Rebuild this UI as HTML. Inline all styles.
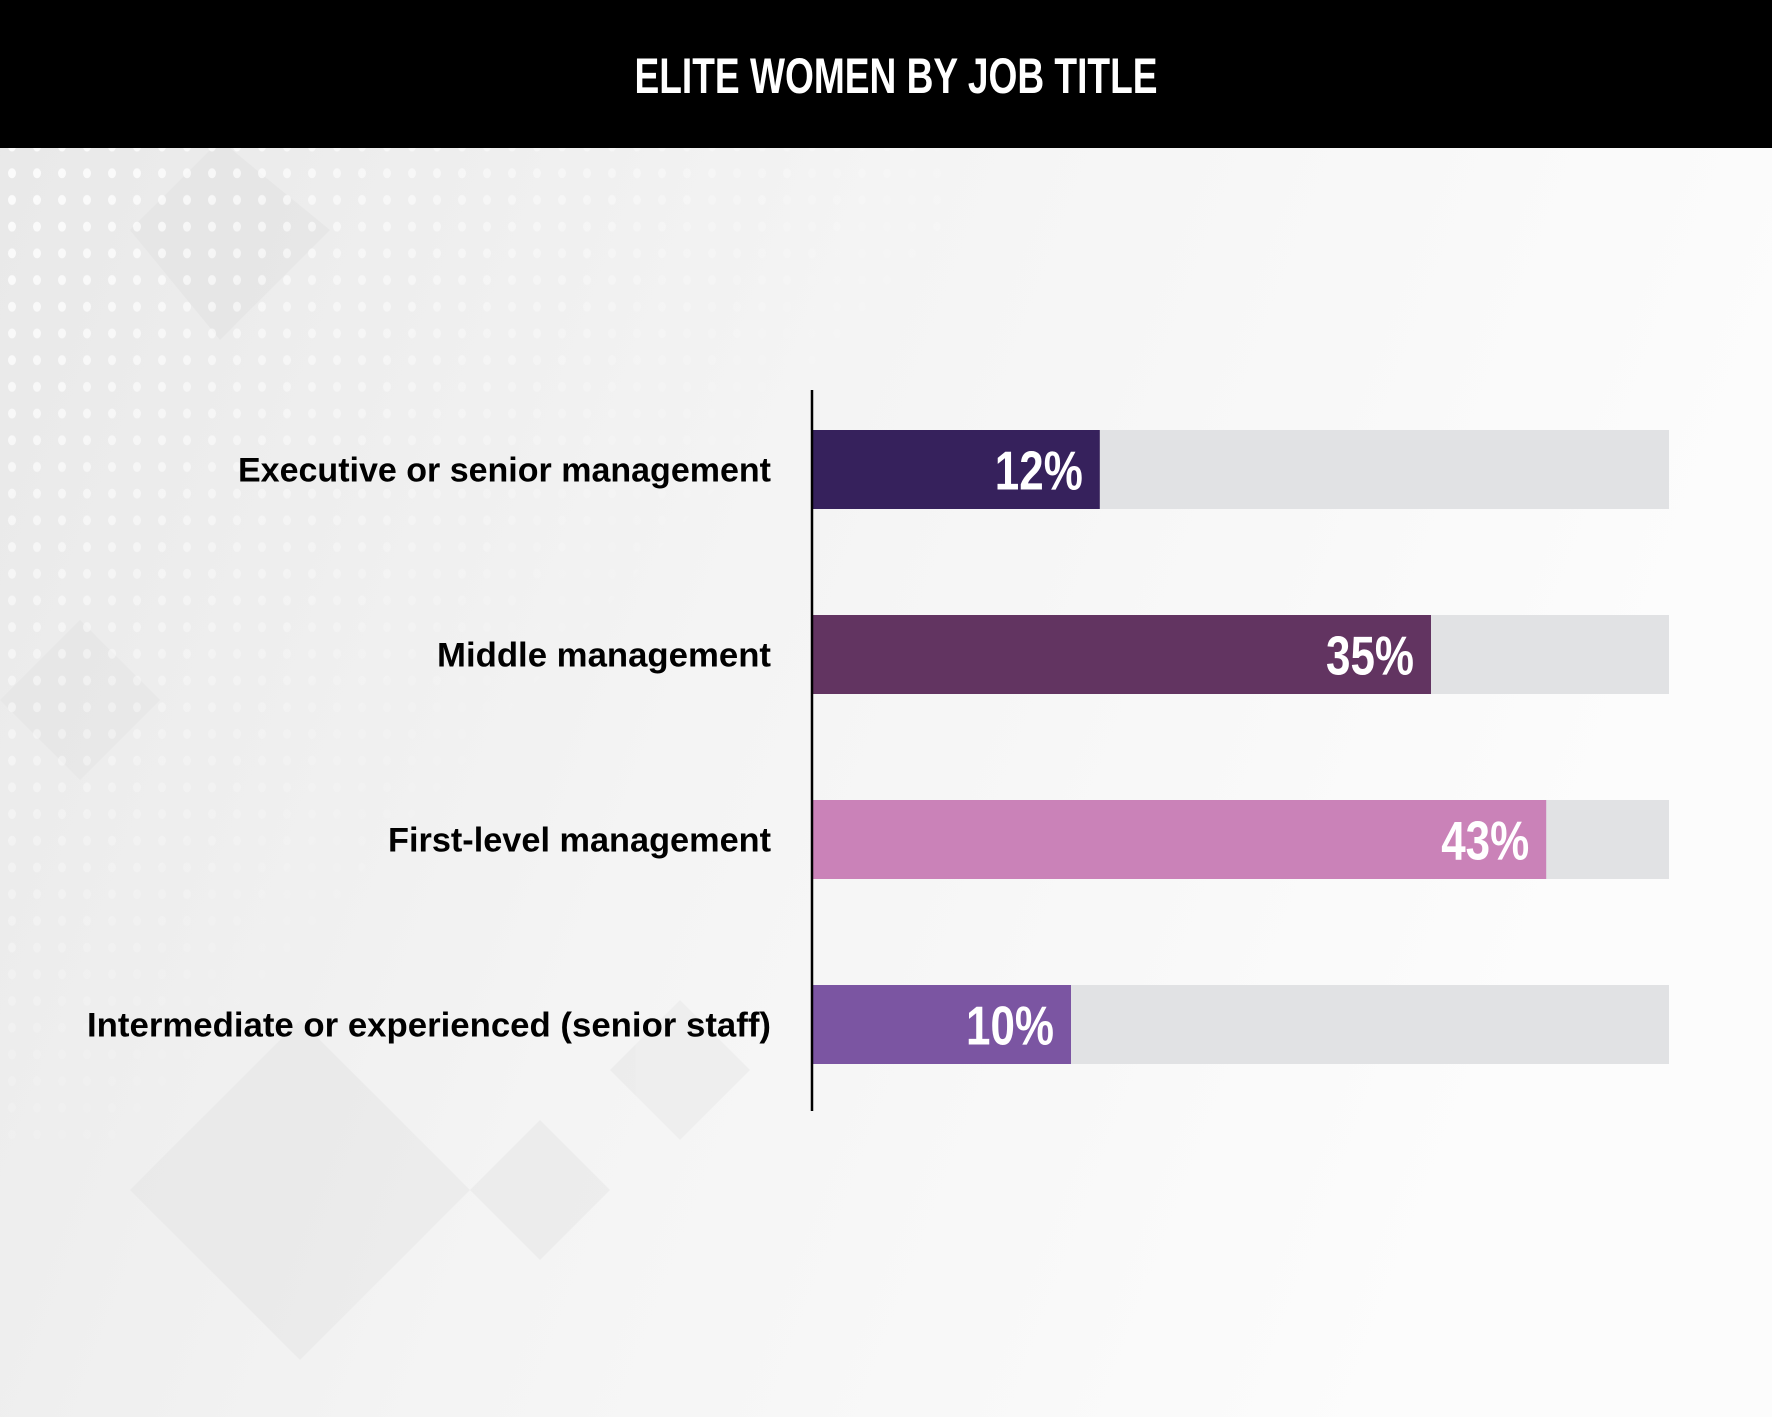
<!DOCTYPE html>
<html><head><meta charset="utf-8"><style>
html,body{margin:0;padding:0;width:1772px;height:1417px;overflow:hidden;}
body{font-family:"Liberation Sans",sans-serif;}
</style></head><body>
<svg width="1772" height="1417" viewBox="0 0 1772 1417" xmlns="http://www.w3.org/2000/svg">
<defs>
<linearGradient id="bg" x1="0" y1="0" x2="1" y2="0.3">
<stop offset="0" stop-color="#e8e8e8"/><stop offset="0.5" stop-color="#f4f4f4"/><stop offset="1" stop-color="#fcfcfc"/>
</linearGradient>
<pattern id="dots" width="25" height="26.7" patternUnits="userSpaceOnUse">
<ellipse cx="12" cy="13" rx="4" ry="5" fill="#ffffff" opacity="0.85"/>
</pattern>
<linearGradient id="fade" x1="0" y1="0" x2="1" y2="1">
<stop offset="0" stop-color="#fff" stop-opacity="1"/><stop offset="0.6" stop-color="#fff" stop-opacity="0"/>
</linearGradient>
<mask id="dm"><rect x="0" y="148" width="950" height="1000" fill="url(#fade)"/></mask>
</defs>
<rect x="0" y="0" width="1772" height="1417" fill="url(#bg)"/>
<g opacity="0.2">
<path d="M130 1190 L300 1020 L470 1190 L300 1360Z" fill="#d4d4d4"/>
<path d="M470 1190 L540 1120 L610 1190 L540 1260Z" fill="#cfcfcf"/>
<path d="M610 1070 L680 1000 L750 1070 L680 1140Z" fill="#d0d0d0"/>
<path d="M130 230 L220 140 L330 230 L220 340Z" fill="#d0d0d0"/>
<path d="M0 700 L80 620 L160 700 L80 780Z" fill="#d8d8d8"/>
</g>
<rect x="0" y="148" width="950" height="1000" fill="url(#dots)" mask="url(#dm)"/>
<rect x="0" y="0" width="1772" height="148" fill="#000"/>
<text x="896" y="93" text-anchor="middle" font-size="50" font-weight="bold" fill="#fff" textLength="523" lengthAdjust="spacingAndGlyphs">ELITE WOMEN BY JOB TITLE</text>
<g id="bars"></g>
<line x1="812" y1="390" x2="812" y2="1111" stroke="#000" stroke-width="2.5"/>
</svg>
<script>
const categories = ["Executive or senior management","Middle management","First-level management","Intermediate or experienced (senior staff)"];
const values = [12, 35, 43, 10];
const valueLabels = ["12%","35%","43%","10%"];
const colors = ["#36215c","#623461","#ca82b8","#7b55a2"];
const labelWidths = [533, 334, 383, 684];
const x0 = 813, xEnd = 1669;
function xScale(v){ return x0 + 114 + v * 14.4; }
function yBand(i){ return 430 + i * 185; }
const bh = 79;
const g = document.getElementById('bars');
const NS = 'http://www.w3.org/2000/svg';
values.forEach((v,i)=>{
  const y = yBand(i);
  const bg = document.createElementNS(NS,'rect');
  
  
  bg.setAttribute('x',x0); bg.setAttribute('y',y); bg.setAttribute('width',xEnd-x0); bg.setAttribute('height',bh); bg.setAttribute('fill','#e1e2e4');
  g.appendChild(bg);
  const r = document.createElementNS(NS,'rect');
  
  
  const xe = xScale(v);
  r.setAttribute('x',x0); r.setAttribute('y',y); r.setAttribute('width',xe-x0); r.setAttribute('height',bh); r.setAttribute('fill',colors[i]);
  g.appendChild(r);
  const t = document.createElementNS(NS,'text');
  
  
  t.setAttribute('x',xe-17); t.setAttribute('y',y+bh/2+20); t.setAttribute('text-anchor','end');
  t.setAttribute('font-size','55'); t.setAttribute('font-weight','bold'); t.setAttribute('fill','#fff');
  t.setAttribute('textLength','88'); t.setAttribute('lengthAdjust','spacingAndGlyphs');
  t.textContent = valueLabels[i];
  g.appendChild(t);
  const c = document.createElementNS(NS,'text');
  
  
  c.setAttribute('x',771); c.setAttribute('y',y+bh/2+12); c.setAttribute('text-anchor','end');
  c.setAttribute('font-size','34'); c.setAttribute('font-weight','bold'); c.setAttribute('fill','#000');
  c.setAttribute('textLength',labelWidths[i]); c.setAttribute('lengthAdjust','spacingAndGlyphs');
  c.textContent = categories[i];
  g.appendChild(c);
});
</script>
</body></html>
